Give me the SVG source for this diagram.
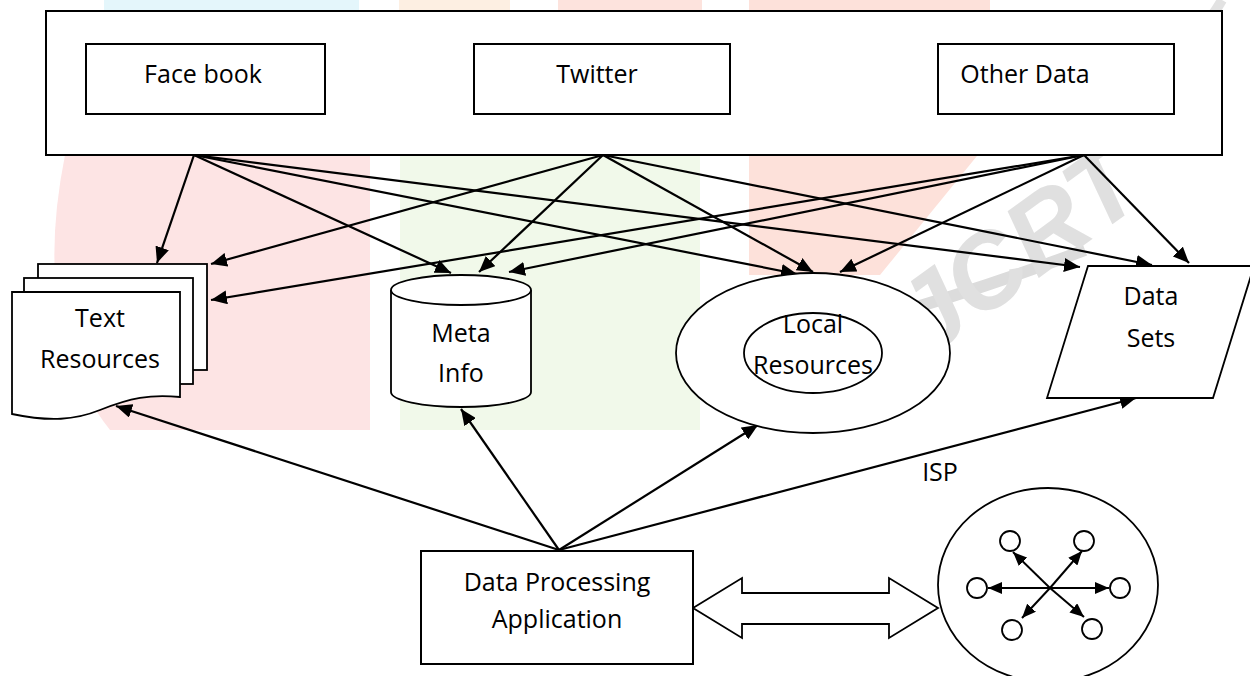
<svg xmlns="http://www.w3.org/2000/svg" width="1250" height="676" viewBox="0 0 1250 676">
<defs>
<style>
.bx{fill:#fff;stroke:#000;stroke-width:2}
.sh{fill:#fff;stroke:#000;stroke-width:1.8}
.ln{fill:none;stroke:#000;stroke-width:2.2}
.sm{fill:none;stroke:#000;stroke-width:2}
.t{font-family:"Open Sans","Liberation Sans",sans-serif;font-size:25px;fill:#000;text-anchor:middle}
</style>
<marker id="ah" markerUnits="userSpaceOnUse" markerWidth="16" markerHeight="14" refX="16" refY="7" orient="auto">
<path d="M0,0 L16,7 L0,14 Z" fill="#000"/>
</marker>
<marker id="as" markerUnits="userSpaceOnUse" markerWidth="14" markerHeight="12" refX="14" refY="6" orient="auto">
<path d="M0,0 L14,6 L0,12 Z" fill="#000"/>
</marker>
</defs>
<rect width="1250" height="676" fill="#fff"/>
<g id="watermark">
<rect x="104" y="0" width="255" height="14" fill="#e4f6fb"/>
<rect x="399" y="0" width="111" height="14" fill="#fdefe2"/>
<rect x="558" y="0" width="144" height="14" fill="#fde3dd"/>
<path d="M65,155 H370 V430 H110 Q30,330 65,155 Z" fill="#fde4e4"/>
<rect x="400" y="155" width="300" height="275" fill="#f1f9ea"/>
<path d="M749,0 H990 V140 L880,275 H749 Z" fill="#fde1da"/>
<path d="M740,350 Q900,320 1085,250" fill="none" stroke="#dcdcdc" stroke-width="12"/>
<path d="M1170,60 Q1205,30 1222,0" fill="none" stroke="#e2e2e2" stroke-width="10"/>
<text x="0" y="0" transform="translate(905,375) rotate(-36)" font-family="Liberation Sans,sans-serif" font-size="105" font-weight="bold" font-style="italic" fill="#e0e0e0">IJCRT</text>
</g>
<g id="sources">
<rect class="bx" x="46" y="11" width="1176" height="144"/>
</g>
<g id="facebook">
<rect class="bx" x="86" y="44" width="239" height="70"/>
<text class="t" x="203" y="83">Face book</text>
</g>
<g id="twitter">
<rect class="bx" x="474" y="44" width="256" height="70"/>
<text class="t" x="597" y="83">Twitter</text>
</g>
<g id="otherdata">
<rect class="bx" x="938" y="44" width="236" height="70"/>
<text class="t" x="1025" y="83">Other Data</text>
</g>
<g id="connectors">
<line class="ln" x1="194" y1="155" x2="157" y2="263" marker-end="url(#ah)"/>
<line class="ln" x1="194" y1="155" x2="451" y2="273" marker-end="url(#ah)"/>
<line class="ln" x1="194" y1="155" x2="797" y2="274" marker-end="url(#ah)"/>
<line class="ln" x1="194" y1="155" x2="1080" y2="267" marker-end="url(#ah)"/>
<line class="ln" x1="603" y1="155" x2="211" y2="264" marker-end="url(#ah)"/>
<line class="ln" x1="603" y1="155" x2="479" y2="272" marker-end="url(#ah)"/>
<line class="ln" x1="603" y1="155" x2="813" y2="272" marker-end="url(#ah)"/>
<line class="ln" x1="603" y1="155" x2="1152" y2="265" marker-end="url(#ah)"/>
<line class="ln" x1="1084" y1="155" x2="211" y2="300" marker-end="url(#ah)"/>
<line class="ln" x1="1084" y1="155" x2="509" y2="272" marker-end="url(#ah)"/>
<line class="ln" x1="1084" y1="155" x2="840" y2="272" marker-end="url(#ah)"/>
<line class="ln" x1="1084" y1="155" x2="1189" y2="263" marker-end="url(#ah)"/>
<line class="ln" x1="559" y1="550" x2="116" y2="406" marker-end="url(#ah)"/>
<line class="ln" x1="559" y1="550" x2="461" y2="409" marker-end="url(#ah)"/>
<line class="ln" x1="559" y1="550" x2="758" y2="425" marker-end="url(#ah)"/>
<line class="ln" x1="559" y1="550" x2="1136" y2="398" marker-end="url(#ah)"/>
<path class="sh" d="M693,608 L742,578 V593 H889 V578 L938,608 L889,638 V624 H742 V638 Z"/>
</g>
<g id="textresources">
<rect class="sh" x="38" y="264" width="169" height="106"/>
<rect class="sh" x="24" y="278" width="169" height="106"/>
<path class="sh" d="M12,292 H180 V397 C150,394 130,398 100,410 C75,420 50,422 12,414 Z"/>
<text class="t" x="100" y="327">Text</text>
<text class="t" x="100" y="368">Resources</text>
</g>
<g id="metainfo">
<path class="sh" d="M391,290 A70,15 0 0 1 531,290 V392 A70,15 0 0 1 391,392 Z"/>
<path class="sh" d="M391,290 A70,15 0 0 0 531,290"/>
<text class="t" x="461" y="342">Meta</text>
<text class="t" x="461" y="382">Info</text>
</g>
<g id="localresources">
<ellipse class="sh" cx="813" cy="353" rx="137" ry="80"/>
<ellipse class="sh" cx="813" cy="353" rx="69" ry="40"/>
<text class="t" x="813" y="333">Local</text>
<text class="t" x="813" y="374">Resources</text>
</g>
<g id="datasets">
<path class="sh" d="M1088,266 H1254 L1213,398 H1047 Z"/>
<text class="t" x="1151" y="305">Data</text>
<text class="t" x="1151" y="347">Sets</text>
</g>
<g id="dataprocessing">
<rect class="bx" x="421" y="551" width="272" height="113"/>
<text class="t" x="557" y="591">Data Processing</text>
<text class="t" x="557" y="628">Application</text>
</g>
<g id="isp">
<text class="t" x="940" y="481">ISP</text>
</g>
<g id="network">
<ellipse class="sh" cx="1048" cy="585" rx="110" ry="97"/>
<line class="sm" x1="1050" y1="588" x2="988" y2="588" marker-end="url(#as)"/>
<line class="sm" x1="1050" y1="588" x2="1109" y2="588" marker-end="url(#as)"/>
<line class="sm" x1="1050" y1="588" x2="1013" y2="552" marker-end="url(#as)"/>
<line class="sm" x1="1050" y1="588" x2="1082" y2="551" marker-end="url(#as)"/>
<line class="sm" x1="1050" y1="588" x2="1022" y2="618" marker-end="url(#as)"/>
<line class="sm" x1="1050" y1="588" x2="1084" y2="617" marker-end="url(#as)"/>
<circle class="sh" cx="1010" cy="541" r="10"/>
<circle class="sh" cx="1084" cy="541" r="10"/>
<circle class="sh" cx="977" cy="588" r="10"/>
<circle class="sh" cx="1120" cy="588" r="10"/>
<circle class="sh" cx="1012" cy="630" r="10"/>
<circle class="sh" cx="1092" cy="629" r="10"/>
</g>
</svg>
